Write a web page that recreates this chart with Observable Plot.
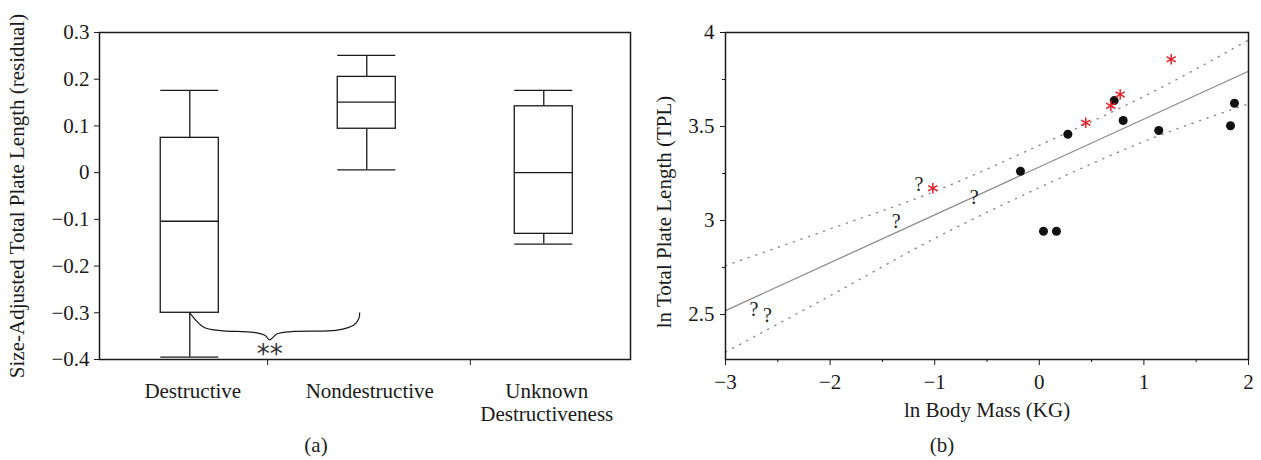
<!DOCTYPE html>
<html><head><meta charset="utf-8">
<script src="https://cdn.jsdelivr.net/npm/d3@7"></script>
<script src="https://cdn.jsdelivr.net/npm/@observablehq/plot@0.6"></script>
<style>
body{margin:0;background:#fff;}
#wrap{display:flex;width:1261px;height:460px;}
.panel{position:relative;}
.cap{font-family:"Liberation Serif",serif;font-size:21px;line-height:20px;text-align:center;margin-top:10px;color:#222;}
</style></head><body>
<div id="wrap"><div class="panel" id="pa" style="width:640px"></div><div class="panel" id="pb" style="width:621px"></div></div>
<script>
// ---------- Panel (a): box plot data ----------
const groups = ["Destructive", "Nondestructive", "Unknown\nDestructiveness"];
const groupPos = [1, 2, 3];
const whiskerLow = [-0.395, 0.006, -0.153];
const q1 = [-0.300, 0.094, -0.131];
const medians = [-0.104, 0.151, 0.0];
const q3 = [0.0745, 0.205, 0.142];
const whiskerHigh = [0.176, 0.251, 0.176];
const yTicksA = [-0.4, -0.3, -0.2, -0.1, 0, 0.1, 0.2, 0.3];
const dividerTicks = [1.44, 2.585];
const yLabelA = "Size-Adjusted Total Plate Length (residual)";
// significance brace (data coordinates)
const braceX = [1.0, 1.08, 1.174, 1.362, 1.428, 1.45, 1.494, 1.588, 1.833, 1.927, 1.955, 1.96];
const braceY = [-0.300, -0.331, -0.338, -0.342, -0.349, -0.358, -0.345, -0.340, -0.337, -0.326, -0.313, -0.300];
const sigText = ["**"];
const sigX = [1.452];
const sigY = [-0.372];

// ---------- Panel (b): scatter data ----------
const blackX = [-0.18, 0.273, 0.716, 0.802, 1.142, 1.828, 1.866, 0.040, 0.164];
const blackY = [3.262, 3.459, 3.638, 3.532, 3.479, 3.504, 3.624, 2.943, 2.943];
const redX = [1.261, 0.773, 0.684, 0.444, -1.018];
const redY = [3.858, 3.670, 3.610, 3.520, 3.172];
const unknownX = [-1.150, -1.368, -0.623, -2.727, -2.600];
const unknownY = [3.192, 2.996, 3.122, 2.525, 2.495];
const fitX = [-3, 2];
const fitY = [2.521, 3.794];
const bandX = [-3, -2, -1, 0, 1, 2];
const bandUpper = [2.76, 2.955, 3.155, 3.40, 3.66, 3.96];
const bandLower = [2.30, 2.60, 2.905, 3.175, 3.42, 3.62];
const xTicksB = [-3, -2, -1, 0, 1, 2];
const xMinorB = [-2.5, -1.5, -0.5, 0.5, 1.5];
const yTicksB = [2.5, 3, 3.5, 4];
const yMinorB = [2.75, 3.25, 3.75];
const xLabelB = "ln Body Mass (KG)";
const yLabelB = "ln Total Plate Length (TPL)";

const ink = "#1a1a1a";
const fmt = d3.format("~g");
const serif = "Liberation Serif, Times New Roman, serif";
const fs = 21;

// ---------- build panel (a) ----------
const boxes = groups.map((g, i) => ({g, pos: groupPos[i], lo: whiskerLow[i], q1: q1[i], med: medians[i], q3: q3[i], hi: whiskerHigh[i]}));
const hw = 0.164;
const brace = braceX.map((x, i) => ({x, y: braceY[i]}));

const plotA = Plot.plot({
  width: 640, height: 425,
  marginLeft: 99, marginRight: 10, marginTop: 32, marginBottom: 66,
  style: {fontFamily: serif, fontSize: fs + "px", color: ink, background: "#fff"},
  x: {domain: [0.49, 3.49]},
  y: {domain: [-0.4, 0.3]},
  marks: [
    Plot.axisY({ticks: yTicksA, tickFormat: fmt, tickSize: 5, tickPadding: 5, label: null, stroke: ink}),
    Plot.axisX({ticks: dividerTicks, tickFormat: () => "", tickSize: 6, label: null, stroke: ink}),
    Plot.text([yLabelA], {frameAnchor: "left", textAnchor: "middle", rotate: -90, dx: -82, fill: ink, fontSize: fs}),
    Plot.text(boxes, {x: "pos", text: "g", frameAnchor: "bottom", textAnchor: "middle", lineAnchor: "top", dy: 22, dx: 3, fill: ink, fontSize: fs, lineHeight: 1.1}),
    Plot.ruleX(boxes, {x: "pos", y1: "q3", y2: "hi", stroke: ink, strokeWidth: 1.3}),
    Plot.ruleX(boxes, {x: "pos", y1: "lo", y2: "q1", stroke: ink, strokeWidth: 1.3}),
    Plot.ruleY(boxes, {y: "hi", x1: d => d.pos - hw, x2: d => d.pos + hw, stroke: ink, strokeWidth: 1.3}),
    Plot.ruleY(boxes, {y: "lo", x1: d => d.pos - hw, x2: d => d.pos + hw, stroke: ink, strokeWidth: 1.3}),
    Plot.rect(boxes, {x1: d => d.pos - hw, x2: d => d.pos + hw, y1: "q1", y2: "q3", fill: "#fff", stroke: ink, strokeWidth: 1.3}),
    Plot.ruleY(boxes, {y: "med", x1: d => d.pos - hw, x2: d => d.pos + hw, stroke: ink, strokeWidth: 1.3}),
    Plot.line(brace, {x: "x", y: "y", curve: "catmull-rom", stroke: ink, strokeWidth: 1.2}),
    Plot.text(sigText, {x: sigX, y: sigY, text: d => d, fontFamily: "DejaVu Sans", fontSize: 26, dy: 8, fill: "#333"}),
    Plot.frame({stroke: ink, strokeWidth: 1.5})
  ]
});

// ---------- build panel (b) ----------
const blacks = blackX.map((x, i) => ({x, y: blackY[i]}));
const reds = redX.map((x, i) => ({x, y: redY[i]}));
const unknowns = unknownX.map((x, i) => ({x, y: unknownY[i]}));
const fit = fitX.map((x, i) => ({x, y: fitY[i]}));
const band = bandX.map((x, i) => ({x, up: bandUpper[i], lo: bandLower[i]}));

const plotB = Plot.plot({
  width: 621, height: 425,
  marginLeft: 85, marginRight: 13, marginTop: 32, marginBottom: 66,
  style: {fontFamily: serif, fontSize: fs + "px", color: ink, background: "#fff"},
  x: {domain: [-3, 2]},
  y: {domain: [2.261, 4]},
  marks: [
    Plot.axisX({ticks: xTicksB, tickFormat: fmt, tickSize: 6, tickPadding: 9, label: null, stroke: ink}),
    Plot.axisX({ticks: xMinorB, tickFormat: () => "", tickSize: 3, label: null, stroke: ink}),
    Plot.axisY({ticks: yTicksB, tickFormat: fmt, tickSize: 5, tickPadding: 6, label: null, stroke: ink}),
    Plot.axisY({ticks: yMinorB, tickFormat: () => "", tickSize: 3, label: null, stroke: ink}),
    Plot.text([xLabelB], {frameAnchor: "bottom", textAnchor: "middle", lineAnchor: "top", dy: 43, fill: ink, fontSize: fs}),
    Plot.text([yLabelB], {frameAnchor: "left", textAnchor: "middle", rotate: -90, dx: -61, dy: 16, fill: ink, fontSize: fs}),
    Plot.line(band, {x: "x", y: "up", curve: "monotone-x", stroke: "#8a8a8a", strokeWidth: 1.4, strokeDasharray: "1.2,6.8"}),
    Plot.line(band, {x: "x", y: "lo", curve: "monotone-x", stroke: "#8a8a8a", strokeWidth: 1.4, strokeDasharray: "1.2,6.8"}),
    Plot.line(fit, {x: "x", y: "y", stroke: "#8c8c8c", strokeWidth: 1.3}),
    Plot.dot(blacks, {x: "x", y: "y", r: 4.5, fill: "#111", stroke: null}),
    Plot.dot(reds, {x: "x", y: "y", r: 5, symbol: "asterisk", stroke: "#e8202a", strokeWidth: 1.5}),
    Plot.text(unknowns, {x: "x", y: "y", text: () => "?", fontSize: 20, fill: ink}),
    Plot.frame({stroke: ink, strokeWidth: 1.5})
  ]
});

const pa = document.getElementById("pa");
pa.appendChild(plotA);
const ca = document.createElement("div"); ca.className = "cap"; ca.style.paddingRight = "8px"; ca.textContent = "(a)"; pa.appendChild(ca);
const pb = document.getElementById("pb");
pb.appendChild(plotB);
const cb = document.createElement("div"); cb.className = "cap"; cb.style.paddingRight = "17px"; cb.textContent = "(b)"; pb.appendChild(cb);
</script>
</body></html>
